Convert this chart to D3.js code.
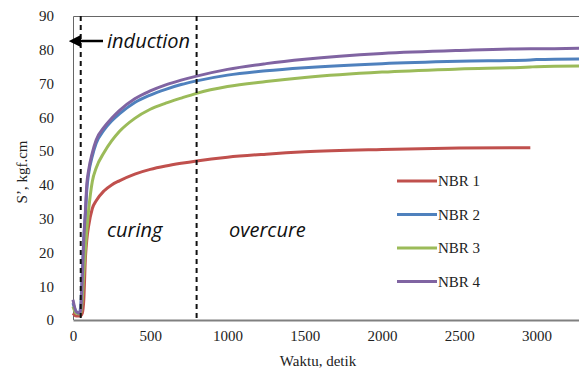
<!DOCTYPE html>
<html>
<head>
<meta charset="utf-8">
<script src="https://cdn.jsdelivr.net/npm/d3@7"></script>
<style>
  body { margin: 0; background: #fff; }
  svg { display: block; }
  .tick text { font-family: "Liberation Serif", "Times New Roman", serif; font-size: 15px; fill: #222; }
</style>
</head>
<body>
<svg id="chart" width="579" height="372"></svg>
<script>
// time (s) shared by all series; red stops before 3000
const time = [0, 20, 40, 50, 60, 70, 80, 90, 100, 125, 150, 200, 250, 300, 400, 500, 600, 700, 800, 1000, 1250, 1500, 2000, 2500, 2960, 3000, 3300];
const nbr1 = [2, 1.2, 1.2, 1.3, 2, 6, 18, 24, 27.5, 33, 35.3, 38.2, 40, 41.2, 43.2, 44.6, 45.6, 46.4, 47.1, 48.2, 49.1, 49.8, 50.5, 50.9, 51.0, null, null];
const nbr2 = [5, 2.5, 2, 4, 14, 24, 31, 39, 43, 48.5, 52.3, 56.2, 58.9, 61, 64.4, 66.6, 68.3, 69.7, 70.8, 72.5, 73.8, 74.7, 75.9, 76.6, 77, 77.1, 77.3];
const nbr3 = [4, 2, 1.8, 2, 6, 14, 21, 27, 32, 41, 45, 49.5, 53, 55.8, 59.7, 62.4, 64.2, 65.7, 67.1, 69.1, 70.6, 71.8, 73.4, 74.3, 74.9, 75, 75.2];
const nbr4 = [6, 2.5, 2, 3, 12, 24, 32, 40.5, 44, 49.5, 53.3, 57, 59.7, 62, 65.5, 67.8, 69.6, 71, 72.2, 74.2, 75.9, 77.2, 78.9, 79.8, 80.3, 80.3, 80.5];
const seriesNames = ["NBR 1", "NBR 2", "NBR 3", "NBR 4"];
const colors = ["#c0504d", "#4f81bd", "#9bbb59", "#8064a2"];
const xTicks = [0, 500, 1000, 1500, 2000, 2500, 3000];
const yTicks = [0, 10, 20, 30, 40, 50, 60, 70, 80, 90];
const phaseBounds = [50, 800]; // dashed lines: end of induction, end of curing

const svg = d3.select("#chart");
const m = { left: 73, top: 16, right: 0, bottom: 52 };
const W = 579, H = 372;

const x = d3.scaleLinear().domain([0, 3275]).range([m.left, W - m.right]);
const y = d3.scaleLinear().domain([0, 90]).range([H - m.bottom, m.top]);

// frame: top + left thin
svg.append("path")
  .attr("d", `M${W},${m.top + 0.5}H${m.left + 0.5}V${H - m.bottom}`)
  .attr("fill", "none").attr("stroke", "#666").attr("stroke-width", 1);

const xAxis = svg.append("g")
  .attr("transform", `translate(0,${H - m.bottom})`)
  .call(d3.axisBottom(x).tickValues(xTicks).tickSize(0).tickPadding(10).tickFormat(d3.format("d")));
xAxis.select(".domain").attr("stroke", "#808080").attr("stroke-width", 2);

const yAxis = svg.append("g")
  .attr("transform", `translate(${m.left},0)`)
  .call(d3.axisLeft(y).tickValues(yTicks).tickSize(0).tickPadding(19));
yAxis.select(".domain").remove();

// axis titles
svg.append("text")
  .attr("x", 318).attr("y", 366)
  .attr("text-anchor", "middle")
  .style("font-family", "'Liberation Serif', serif").style("font-size", "15px").style("fill", "#222")
  .text("Waktu, detik");
svg.append("text")
  .attr("transform", "translate(27,172) rotate(-90)")
  .attr("text-anchor", "middle")
  .style("font-family", "'Liberation Serif', serif").style("font-size", "15px").style("fill", "#222")
  .text("S’, kgf.cm");

// curves
const allSeries = [nbr1, nbr2, nbr3, nbr4];
const line = d3.line()
  .defined(d => d[1] != null)
  .x(d => x(d[0])).y(d => y(d[1]))
  .curve(d3.curveMonotoneX);

allSeries.forEach((vals, i) => {
  svg.append("path")
    .datum(time.map((t, j) => [t, vals[j]]))
    .attr("fill", "none")
    .attr("stroke", colors[i])
    .attr("stroke-width", 3)
    .attr("d", line);
});

// phase boundaries
svg.selectAll(".phase")
  .data(phaseBounds)
  .join("line")
  .attr("x1", d => x(d)).attr("x2", d => x(d))
  .attr("y1", m.top).attr("y2", H - m.bottom)
  .attr("stroke", "#111").attr("stroke-width", 2)
  .attr("stroke-dasharray", "5,4");

// induction arrow
svg.append("defs").append("marker")
  .attr("id", "arr").attr("viewBox", "0 0 10 10")
  .attr("refX", 1).attr("refY", 5)
  .attr("markerWidth", 5).attr("markerHeight", 5)
  .attr("orient", "auto-start-reverse")
  .append("path").attr("d", "M0,0L10,5L0,10z").attr("fill", "#000");
svg.append("line")
  .attr("x1", 103).attr("x2", 80)
  .attr("y1", 41).attr("y2", 41)
  .attr("stroke", "#000").attr("stroke-width", 2.5)
  .attr("marker-end", "url(#arr)");

const lab = (txt, xx, yy) => svg.append("text")
  .attr("x", xx).attr("y", yy)
  .style("font-family", "'Open Sans', sans-serif").style("font-style", "italic")
  .style("font-size", "20px").style("fill", "#111")
  .text(txt);
lab("induction", 107, 48);
lab("curing", 107, 237);
lab("overcure", 229, 237);

// legend
const lg = svg.append("g");
seriesNames.forEach((name, i) => {
  const ly = 181 + i * 33.5;
  lg.append("line")
    .attr("x1", 397).attr("x2", 437).attr("y1", ly).attr("y2", ly)
    .attr("stroke", colors[i]).attr("stroke-width", 3);
  lg.append("text")
    .attr("x", 438).attr("y", ly + 5)
    .style("font-family", "'Liberation Serif', serif").style("font-size", "15px").style("fill", "#222")
    .text(name);
});
</script>
</body>
</html>
